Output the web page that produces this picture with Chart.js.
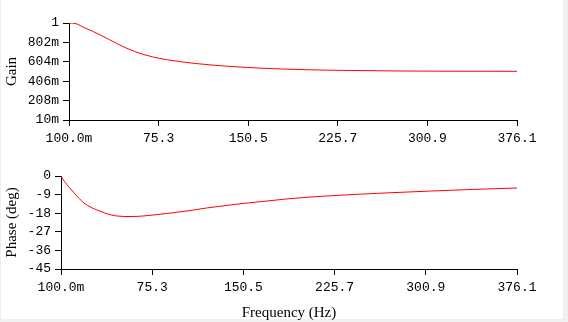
<!DOCTYPE html>
<html>
<head>
<meta charset="utf-8">
<script src="https://cdn.jsdelivr.net/npm/chart.js@4/dist/chart.umd.min.js"></script>
<style>
  html, body { margin:0; padding:0; background:#f0f0f0; width:568px; height:322px; overflow:hidden; }
  #paper { position:absolute; left:1px; top:0; width:562px; height:319px; background:#ffffff; }
  canvas { position:absolute; left:0; }
  #c1 { top:0; }
  #c2 { top:160px; }
</style>
</head>
<body>
<div id="paper"></div>
<canvas id="c1" width="564" height="160"></canvas>
<canvas id="c2" width="564" height="162"></canvas>
<script>
// ---- data ----
const freqTickValues = [0.1, 75.3, 150.5, 225.7, 300.9, 376.1];
const freqTickLabels = ['100.0m', '75.3', '150.5', '225.7', '300.9', '376.1'];

const gainTickValues = [0.01, 0.208, 0.406, 0.604, 0.802, 1];
const gainTickLabels = ['10m', '208m', '406m', '604m', '802m', '1'];

const phaseTickValues = [-45, -36, -27, -18, -9, 0];
const phaseTickLabels = ['-45', '-36', '-27', '-18', '-9', '0'];

const gainFreq = [0.1, 6, 13, 20, 27, 34, 41, 48, 55, 62, 70, 82, 93, 107, 121, 135, 150, 165, 180, 200, 215, 240, 280, 320, 376.1];
const gainValues = [1.0, 0.993, 0.952, 0.915, 0.874, 0.830, 0.786, 0.745, 0.710, 0.681, 0.655, 0.626, 0.606, 0.586, 0.570, 0.557, 0.546, 0.537, 0.530, 0.523, 0.519, 0.515, 0.510, 0.508, 0.507];

const phaseFreq = [0.1, 3, 7, 11, 15, 19, 25, 30, 36, 41, 47, 57, 67, 77, 88, 99, 110, 121, 132, 143, 150, 170, 188, 210, 227, 260, 304, 340, 376.1];
const phaseValues = [0, -2.7, -5.5, -8.3, -10.8, -13.1, -15.2, -16.5, -17.8, -18.8, -19.4, -19.6, -19.4, -18.8, -18.1, -17.3, -16.4, -15.4, -14.6, -13.8, -13.3, -12.1, -11.0, -10.0, -9.4, -8.4, -7.3, -6.5, -5.8];

// ---- styling ----
const monoFont = { family: 'Liberation Mono', size: 13 };
const serifFont = { family: 'Liberation Serif', size: 15 };

function xScale(height, showTitle) {
  return {
    type: 'linear',
    min: freqTickValues[0],
    max: freqTickValues[freqTickValues.length - 1],
    afterBuildTicks: s => { s.ticks = freqTickValues.map(v => ({ value: v })); },
    afterFit: s => { s.height = height; },
    ticks: {
      autoSkip: false, maxRotation: 0, minRotation: 0,
      color: '#000', font: monoFont, padding: 5,
      callback: (v, i) => freqTickLabels[i]
    },
    grid: { drawOnChartArea: false, tickLength: 6, tickColor: '#000', color: '#000', lineWidth: 1 },
    border: { color: '#000', width: 1 },
    title: { display: showTitle, text: 'Frequency (Hz)', color: '#000', font: serifFont, padding: 0 }
  };
}

function yScale(width, vals, labels, title) {
  return {
    type: 'linear',
    min: vals[0],
    max: vals[vals.length - 1],
    afterBuildTicks: s => { s.ticks = vals.map(v => ({ value: v })); },
    afterFit: s => { s.width = width; },
    ticks: {
      autoSkip: false, color: '#000', font: monoFont, padding: 4,
      callback: (v, i) => labels[i]
    },
    grid: { drawOnChartArea: false, tickLength: 6, tickColor: '#000', color: '#000', lineWidth: 1 },
    border: { color: '#000', width: 1 },
    title: { display: true, text: title, color: '#000', font: serifFont, padding: { top: 3, bottom: 0 } }
  };
}

function lineDataset(xs, ys) {
  return {
    data: xs.map((x, i) => ({ x: x, y: ys[i] })),
    borderColor: '#ff0000',
    borderWidth: 1,
    pointRadius: 0,
    fill: false,
    cubicInterpolationMode: 'monotone'
  };
}

const commonOpts = {
  responsive: false,
  animation: false,
  plugins: { legend: { display: false }, tooltip: { enabled: false } },
  events: []
};

new Chart(document.getElementById('c1'), {
  type: 'line',
  data: { datasets: [lineDataset(gainFreq, gainValues)] },
  options: Object.assign({}, commonOpts, {
    layout: { padding: { top: 23, right: 47, left: 0, bottom: 0 } },
    scales: {
      x: xScale(40, false),
      y: yScale(69, gainTickValues, gainTickLabels, 'Gain')
    }
  })
});

new Chart(document.getElementById('c2'), {
  type: 'line',
  data: { datasets: [lineDataset(phaseFreq, phaseValues)] },
  options: Object.assign({}, commonOpts, {
    layout: { padding: { top: 16, right: 47, left: 0, bottom: 0 } },
    scales: {
      x: xScale(53, true),
      y: yScale(61, phaseTickValues, phaseTickLabels, 'Phase (deg)')
    }
  })
});
</script>
</body>
</html>
